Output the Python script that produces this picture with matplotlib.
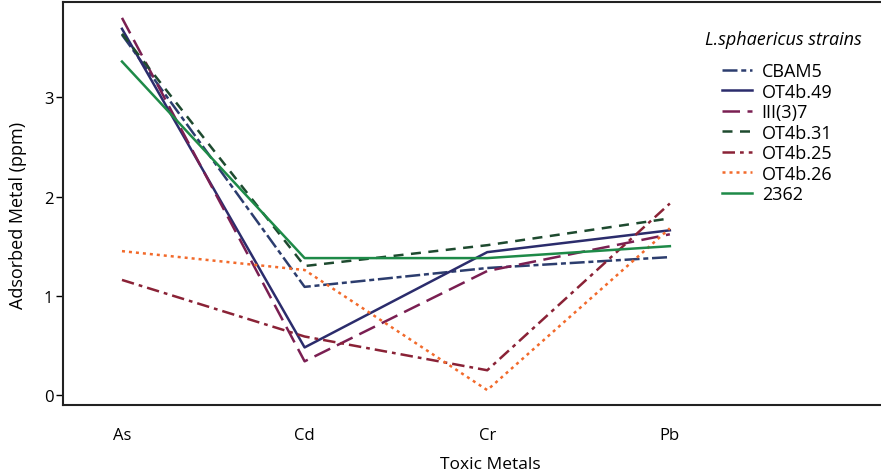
import matplotlib
matplotlib.use("Agg")
import matplotlib.pyplot as plt

plt.rcParams['font.family'] = ['Open Sans', 'DejaVu Sans']

metals = ["As", "Cd", "Cr", "Pb"]
cbam5 = [3.63, 1.09, 1.28, 1.39]
ot4b49 = [3.69, 0.48, 1.44, 1.66]
iii37 = [3.80, 0.34, 1.25, 1.62]
ot4b31 = [3.64, 1.30, 1.51, 1.78]
ot4b25 = [1.16, 0.59, 0.25, 1.93]
ot4b26 = [1.45, 1.26, 0.05, 1.68]
s2362 = [3.36, 1.38, 1.38, 1.50]

series = [
    ("CBAM5", cbam5, "#2c3d6e", (0, (6, 1.5, 2, 1.5))),
    ("OT4b.49", ot4b49, "#2b2c6c", "-"),
    ("III(3)7", iii37, "#7a1f52", (0, (7, 3))),
    ("OT4b.31", ot4b31, "#1e4a2f", (0, (4, 3))),
    ("OT4b.25", ot4b25, "#8a2236", (0, (5, 2, 1.5, 2))),
    ("OT4b.26", ot4b26, "#f26a2b", (0, (1.2, 1.6))),
    ("2362", s2362, "#1e8a48", "-"),
]

W, H = 881, 477
fig = plt.figure(figsize=(W/100, H/100), dpi=100)
ax = fig.add_axes([63/W, 1-406/H, 826/W, 403/H])
x = list(range(len(metals)))
for name, vals, col, ls in series:
    ax.plot(x, vals, color=col, linestyle=ls, linewidth=1.8, label=name)

ax.set_xlim(-0.323, 4.2)
ax.set_ylim(-0.10, 3.96)
ax.set_xticks(x)
ax.set_xticklabels(metals, fontsize=12)
ax.set_yticks([0, 1, 2, 3])
ax.set_yticklabels(["0", "1", "2", "3"], fontsize=12)
ax.tick_params(axis='x', length=0, pad=16)
ax.tick_params(axis='y', length=5, width=1, pad=2)
for s in ax.spines.values():
    s.set_linewidth(1.5)
    s.set_color("#222222")
ax.set_xlabel("Toxic Metals", fontsize=12.5)
ax.xaxis.set_label_coords(490/W, 1-465/H, transform=fig.transFigure)
ax.xaxis.label.set_va("center")
ax.set_ylabel("Adsorbed Metal (ppm)", fontsize=13)
ax.yaxis.set_label_coords(18/W, 1-215/H, transform=fig.transFigure)
ax.yaxis.label.set_va("center")

fig.text(705/W, 1-40/H, "L.sphaericus strains", style="italic", fontsize=13,
         ha="left", va="center")
leg = ax.legend(loc="upper left", bbox_to_anchor=(722/W, 1-63/H),
                bbox_transform=fig.transFigure, frameon=False,
                fontsize=13, handlelength=1.65, handletextpad=0.55,
                labelspacing=0.14, borderpad=0, borderaxespad=0)

fig.savefig("out.png", dpi=100)
